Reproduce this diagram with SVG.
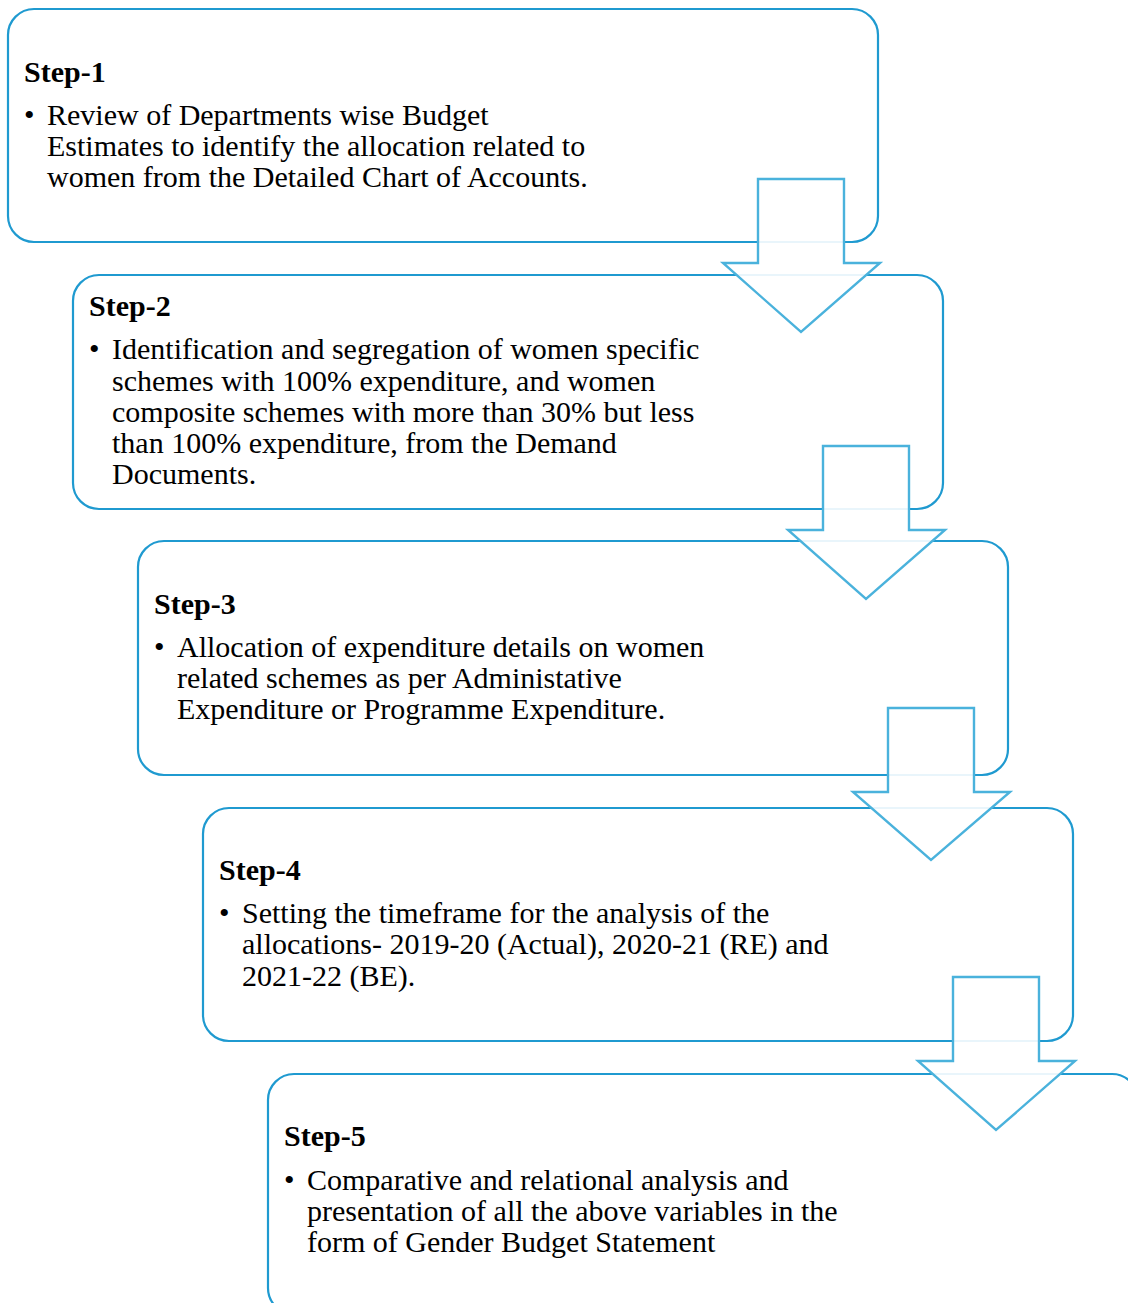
<svg xmlns="http://www.w3.org/2000/svg" width="1128" height="1303" viewBox="0 0 1128 1303">
<style>
.box{fill:none;stroke:#1f9ad0;stroke-width:2.2}
.arr{fill:#ffffff;fill-opacity:0.9;stroke:#4ab2dc;stroke-width:2.4;stroke-linejoin:miter}
.t{font-family:"Liberation Serif","Times New Roman",serif;font-size:30px;fill:#000}
.h{font-weight:bold}
</style>
<rect width="1128" height="1303" fill="#fff"/>
<g id="step1">
<rect class="box" x="8" y="9" width="870" height="233" rx="26"/>
<text class="t h" x="24" y="82">Step-1</text>
<text class="t" x="24" y="125">•</text>
<text class="t" x="47" y="125">Review of Departments wise Budget</text>
<text class="t" x="47" y="156">Estimates to identify the allocation related to</text>
<text class="t" x="47" y="187">women from the Detailed Chart of Accounts.</text>
</g>
<g id="step2">
<rect class="box" x="73" y="275" width="870" height="234" rx="26"/>
<text class="t h" x="89" y="316">Step-2</text>
<text class="t" x="89" y="359">•</text>
<text class="t" x="112" y="359">Identification and segregation of women specific</text>
<text class="t" x="112" y="391">schemes with 100% expenditure, and women</text>
<text class="t" x="112" y="422">composite schemes with more than 30% but less</text>
<text class="t" x="112" y="453">than 100% expenditure, from the Demand</text>
<text class="t" x="112" y="484">Documents.</text>
</g>
<g id="step3">
<rect class="box" x="138" y="541" width="870" height="234" rx="26"/>
<text class="t h" x="154" y="614">Step-3</text>
<text class="t" x="154" y="657">•</text>
<text class="t" x="177" y="657">Allocation of expenditure details on women</text>
<text class="t" x="177" y="688">related schemes as per Administative</text>
<text class="t" x="177" y="719">Expenditure or Programme Expenditure.</text>
</g>
<g id="step4">
<rect class="box" x="203" y="808" width="870" height="233" rx="26"/>
<text class="t h" x="219" y="880">Step-4</text>
<text class="t" x="219" y="923">•</text>
<text class="t" x="242" y="923">Setting the timeframe for the analysis of the</text>
<text class="t" x="242" y="954">allocations- 2019-20 (Actual), 2020-21 (RE) and</text>
<text class="t" x="242" y="986">2021-22 (BE).</text>
</g>
<g id="step5">
<rect class="box" x="268" y="1074" width="870" height="240" rx="26"/>
<text class="t h" x="284" y="1146">Step-5</text>
<text class="t" x="284" y="1190">•</text>
<text class="t" x="307" y="1190">Comparative and relational analysis and</text>
<text class="t" x="307" y="1221">presentation of all the above variables in the</text>
<text class="t" x="307" y="1252">form of Gender Budget Statement</text>
</g>
<g id="connectors">
<polygon class="arr" points="758,179 844,179 844,263 880,263 801,332 723,263 758,263"/>
<polygon class="arr" points="823,446 909,446 909,530 945,530 866,599 788,530 823,530"/>
<polygon class="arr" points="888,708 974,708 974,792 1010,792 931,860 853,792 888,792"/>
<polygon class="arr" points="953,977 1039,977 1039,1061 1075,1061 996,1130 918,1061 953,1061"/>
</g>
</svg>
